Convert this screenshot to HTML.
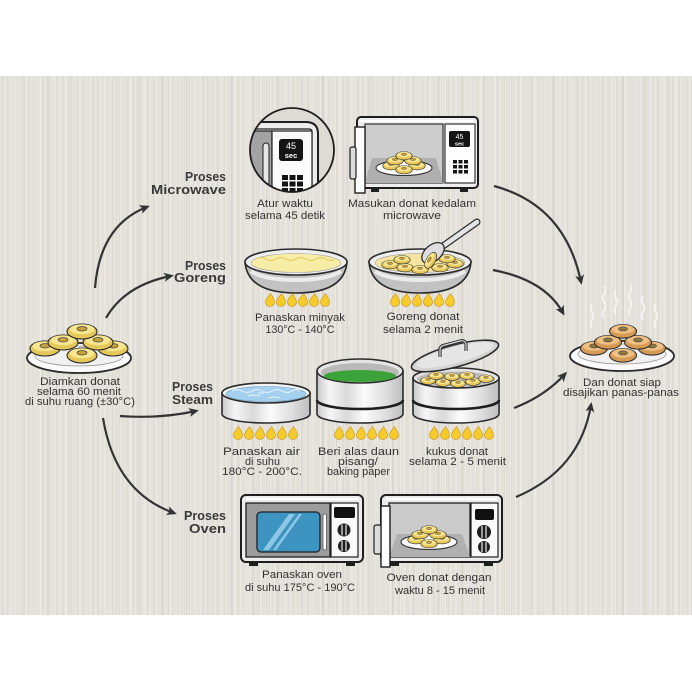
<!DOCTYPE html>
<html><head><meta charset="utf-8"><style>
html,body{margin:0;padding:0;background:#fff;}
#wrap{position:relative;width:692px;height:692px;overflow:hidden;background:#fff;}
#bg{position:absolute;left:0;top:76px;width:692px;height:539px;background-color:#e4e1da;
background-image:repeating-linear-gradient(90deg,rgba(255,255,255,0.28) 0 1px,transparent 1px 5px),repeating-linear-gradient(90deg,rgba(140,130,115,0.08) 0 1px,transparent 1px 7px),repeating-linear-gradient(90deg,rgba(255,255,255,0.18) 0 2px,transparent 2px 13px),repeating-linear-gradient(90deg,rgba(120,110,100,0.05) 0 3px,transparent 3px 23px);}
svg{position:absolute;left:0;top:0;}
text{font-family:"Liberation Sans",Arial,sans-serif;}
.cap{font-size:11px;fill:#333;text-anchor:middle;}
.pr{font-size:13px;font-weight:bold;fill:#3a3a3a;text-anchor:end;}
</style></head><body><div id="wrap"><div id="bg"></div>
<svg width="692" height="692" viewBox="0 0 692 692">
<defs>
<marker id="ah" viewBox="0 0 10 10" refX="7" refY="5" markerWidth="10" markerHeight="10" markerUnits="userSpaceOnUse" orient="auto"><path d="M0,0.5 L10,5 L0,9.5 L2.5,5 Z" fill="#333"/></marker>
<g id="dy">
 <ellipse cx="0" cy="1.5" rx="15" ry="7.5" fill="#e6c75a" stroke="#2b2b2b" stroke-width="1.1"/>
 <ellipse cx="0" cy="-0.8" rx="12.5" ry="5" fill="#f7e58f"/>
 <ellipse cx="0" cy="-1.2" rx="5" ry="2.2" fill="#c9a13a" stroke="#444" stroke-width="0.7"/>
</g>
<g id="dt">
 <ellipse cx="0" cy="1.5" rx="15" ry="7.5" fill="#d69a55" stroke="#2b2b2b" stroke-width="1.1"/>
 <ellipse cx="0" cy="-0.8" rx="12.5" ry="5" fill="#efc084"/>
 <ellipse cx="0" cy="-1.2" rx="5" ry="2.2" fill="#8f7a3a" stroke="#444" stroke-width="0.7"/>
</g>
<path id="fl" d="M0.5,-6.5 C2.5,-3.5 4.5,-0.5 4.5,2 A4.5,4.5 0 0 1 -4.5,2 C-4.5,-1 -2,-2.5 0.5,-6.5 Z" fill="#f6cc2c" stroke="#c98e12" stroke-width="0.6"/>
<g id="f6"><use href="#fl" x="0"/><use href="#fl" x="11"/><use href="#fl" x="22"/><use href="#fl" x="33"/><use href="#fl" x="44"/><use href="#fl" x="55"/></g>
<clipPath id="cc"><circle cx="292" cy="150" r="42"/></clipPath>
<linearGradient id="metal" x1="0" y1="0" x2="1" y2="0">
 <stop offset="0" stop-color="#c9c9c9"/><stop offset="0.15" stop-color="#f6f6f6"/><stop offset="0.35" stop-color="#d9d9d9"/><stop offset="0.55" stop-color="#fbfbfb"/><stop offset="0.8" stop-color="#dedede"/><stop offset="1" stop-color="#bdbdbd"/>
</linearGradient>
</defs>

<!-- ARROWS -->
<g fill="none" stroke="#333" stroke-width="2.2" marker-end="url(#ah)">
<path d="M95,288 Q100,225 147,207"/>
<path d="M106,318 Q125,285 171,276"/>
<path d="M120,416 Q160,419 196,411"/>
<path d="M103,418 Q115,492 174,513"/>
<path d="M494,186 Q565,205 581,282"/>
<path d="M493,270 Q545,280 563,313"/>
<path d="M514,408 Q545,396 565,374"/>
<path d="M516,497 Q580,470 591,405"/>
</g>

<!-- LEFT PLATE -->
<ellipse cx="79" cy="358" rx="52" ry="15" fill="#fafafa" stroke="#2b2b2b" stroke-width="1.8"/>
<ellipse cx="79" cy="356" rx="44" ry="10" fill="#f1f1f1" stroke="#9a9a9a" stroke-width="0.8"/>
<use href="#dy" transform="translate(45,347)"/>
<use href="#dy" transform="translate(113,347)"/>
<use href="#dy" transform="translate(63,341)"/>
<use href="#dy" transform="translate(98,341)"/>
<use href="#dy" transform="translate(82,354)"/>
<use href="#dy" transform="translate(82,330)"/>
<text class="cap" x="80" y="385" textLength="80" lengthAdjust="spacingAndGlyphs">Diamkan donat</text>
<text class="cap" x="79" y="395" textLength="84" lengthAdjust="spacingAndGlyphs">selama 60 menit</text>
<text class="cap" x="80" y="405" textLength="110" lengthAdjust="spacingAndGlyphs">di suhu ruang (±30°C)</text>

<!-- PROSES LABELS -->
<text class="pr" x="226" y="181" textLength="41" lengthAdjust="spacingAndGlyphs">Proses</text>
<text class="pr" x="226" y="194" textLength="75" lengthAdjust="spacingAndGlyphs">Microwave</text>
<text class="pr" x="226" y="270" textLength="41" lengthAdjust="spacingAndGlyphs">Proses</text>
<text class="pr" x="226" y="282" textLength="52" lengthAdjust="spacingAndGlyphs">Goreng</text>
<text class="pr" x="213" y="391" textLength="41" lengthAdjust="spacingAndGlyphs">Proses</text>
<text class="pr" x="213" y="404" textLength="41" lengthAdjust="spacingAndGlyphs">Steam</text>
<text class="pr" x="226" y="520" textLength="42" lengthAdjust="spacingAndGlyphs">Proses</text>
<text class="pr" x="226" y="533" textLength="37" lengthAdjust="spacingAndGlyphs">Oven</text>

<!-- MICROWAVE CLOSEUP -->
<circle cx="292" cy="150" r="42" fill="#dedbd5"/>
<g clip-path="url(#cc)">
 <path d="M240,122 L306,122 Q318,122 318,134 L318,200 L240,200 Z" fill="#ececec" stroke="#1e1e1e" stroke-width="2"/>
 <path d="M240,129 L309,129 Q312,129 312,132 L312,200" fill="none" stroke="#1e1e1e" stroke-width="1.2"/>
 <rect x="240" y="131" width="32" height="70" fill="#a3a3a3" stroke="#1e1e1e" stroke-width="1.2"/>
 <rect x="263" y="143" width="6" height="60" rx="3" fill="#e6e6e6" stroke="#1e1e1e" stroke-width="1"/>
 <rect x="272" y="131" width="40" height="70" fill="#fbfbfb" stroke="#1e1e1e" stroke-width="1.2"/>
 <rect x="279" y="139" width="24" height="22" rx="3" fill="#141414"/>
 <text x="291" y="149" font-size="9" fill="#fff" text-anchor="middle">45</text>
 <text x="291" y="158" font-size="7.5" font-weight="bold" fill="#fff" text-anchor="middle">sec</text>
 <g fill="#141414">
  <rect x="282" y="175" width="6" height="5"/><rect x="289.5" y="175" width="6" height="5"/><rect x="297" y="175" width="6" height="5"/>
  <rect x="282" y="181.5" width="6" height="5"/><rect x="289.5" y="181.5" width="6" height="5"/><rect x="297" y="181.5" width="6" height="5"/>
  <rect x="282" y="188" width="6" height="5"/><rect x="289.5" y="188" width="6" height="5"/><rect x="297" y="188" width="6" height="5"/>
 </g>
</g>
<circle cx="292" cy="150" r="42" fill="none" stroke="#1e1e1e" stroke-width="1.8"/>
<text class="cap" x="285" y="207" textLength="56" lengthAdjust="spacingAndGlyphs">Atur waktu</text>
<text class="cap" x="285" y="219" textLength="80" lengthAdjust="spacingAndGlyphs">selama 45 detik</text>

<!-- MICROWAVE WITH DONUTS -->
<rect x="357" y="117" width="121" height="71" rx="4" fill="#eeeeee" stroke="#1e1e1e" stroke-width="2"/>
<path d="M361,121 L474,121" stroke="#fff" stroke-width="2"/>
<rect x="365" y="124" width="78" height="59" fill="#cdcdcd" stroke="#333" stroke-width="1.2"/>
<path d="M372,158 L436,158 L443,183 L365,183 Z" fill="#afafaf"/>
<rect x="445" y="124" width="30" height="59" fill="#fdfdfd" stroke="#333" stroke-width="1.2"/>
<rect x="449" y="131" width="21" height="16" rx="2" fill="#141414"/>
<text x="459.5" y="139" font-size="7" fill="#fff" text-anchor="middle">45</text>
<text x="459.5" y="145.5" font-size="5.5" font-weight="bold" fill="#fff" text-anchor="middle">sec</text>
<g fill="#141414">
 <rect x="453" y="160" width="4" height="3.5"/><rect x="458.5" y="160" width="4" height="3.5"/><rect x="464" y="160" width="4" height="3.5"/>
 <rect x="453" y="165" width="4" height="3.5"/><rect x="458.5" y="165" width="4" height="3.5"/><rect x="464" y="165" width="4" height="3.5"/>
 <rect x="453" y="170" width="4" height="3.5"/><rect x="458.5" y="170" width="4" height="3.5"/><rect x="464" y="170" width="4" height="3.5"/>
</g>
<rect x="371" y="188" width="8" height="4" fill="#1e1e1e"/><rect x="460" y="188" width="8" height="4" fill="#1e1e1e"/>
<ellipse cx="404" cy="168" rx="28" ry="7.5" fill="#fafafa" stroke="#333" stroke-width="1.1"/>
<use href="#dy" transform="translate(391,165) scale(0.55)"/>
<use href="#dy" transform="translate(417,165) scale(0.55)"/>
<use href="#dy" transform="translate(395,160) scale(0.55)"/>
<use href="#dy" transform="translate(413,160) scale(0.55)"/>
<use href="#dy" transform="translate(404,169) scale(0.55)"/>
<use href="#dy" transform="translate(404,155) scale(0.55)"/>
<rect x="355" y="127" width="10" height="66" fill="#fdfdfd" stroke="#1e1e1e" stroke-width="1.4"/>
<rect x="350" y="147" width="6" height="32" rx="2" fill="#dcdcdc" stroke="#1e1e1e" stroke-width="1.2"/>
<text class="cap" x="412" y="207" textLength="128" lengthAdjust="spacingAndGlyphs">Masukan donat kedalam</text>
<text class="cap" x="412" y="219" textLength="58" lengthAdjust="spacingAndGlyphs">microwave</text>

<!-- GORENG PAN 1 -->
<path d="M245,262 C247,285 268,293 296,293 C324,293 345,285 347,262 Z" fill="#c2c2c2" stroke="#2b2b2b" stroke-width="1.6"/>
<path d="M251,271 C266,283 326,283 341,271" fill="none" stroke="#ececec" stroke-width="4"/>
<ellipse cx="296" cy="262" rx="51" ry="13" fill="#efefef" stroke="#2b2b2b" stroke-width="1.6"/>
<ellipse cx="296" cy="263" rx="45" ry="9.5" fill="#f8eda6" stroke="#999" stroke-width="0.6"/>
<path d="M256,259 q5,-3 10,0 t10,0 t10,0 t10,0 t10,0 t10,0 t10,0 t8,0" fill="none" stroke="#e3c95c" stroke-width="1"/>
<use href="#f6" transform="translate(270,300)"/>
<text class="cap" x="300" y="321" textLength="90" lengthAdjust="spacingAndGlyphs">Panaskan minyak</text>
<text class="cap" x="300" y="333" textLength="69" lengthAdjust="spacingAndGlyphs">130°C - 140°C</text>

<!-- GORENG PAN 2 -->
<path d="M369,262 C371,285 392,293 420,293 C448,293 469,285 471,262 Z" fill="#c2c2c2" stroke="#2b2b2b" stroke-width="1.6"/>
<path d="M375,271 C390,283 450,283 465,271" fill="none" stroke="#ececec" stroke-width="4"/>
<ellipse cx="420" cy="262" rx="51" ry="13" fill="#efefef" stroke="#2b2b2b" stroke-width="1.6"/>
<ellipse cx="420" cy="263" rx="45" ry="9.5" fill="#f4e6a0" stroke="#999" stroke-width="0.6"/>
<use href="#dy" transform="translate(390,264) scale(0.55)"/>
<use href="#dy" transform="translate(405,267) scale(0.55)"/>
<use href="#dy" transform="translate(440,267) scale(0.55)"/>
<use href="#dy" transform="translate(455,263) scale(0.55)"/>
<use href="#dy" transform="translate(402,259) scale(0.55)"/>
<use href="#dy" transform="translate(447,258) scale(0.55)"/>
<use href="#dy" transform="translate(420,269) scale(0.55)"/>
<path d="M443,246 L477,222" stroke="#2b2b2b" stroke-width="7" stroke-linecap="round"/>
<path d="M443,246 L477,222" stroke="#e4e4e4" stroke-width="4.6" stroke-linecap="round"/>
<ellipse cx="433" cy="253" rx="13" ry="8" transform="rotate(-40 433 253)" fill="#dedede" stroke="#2b2b2b" stroke-width="1.3"/>
<use href="#dy" transform="translate(430,260) rotate(-60) scale(0.6)"/>
<use href="#f6" transform="translate(395,300)"/>
<text class="cap" x="423" y="320" textLength="73" lengthAdjust="spacingAndGlyphs">Goreng donat</text>
<text class="cap" x="423" y="333" textLength="80" lengthAdjust="spacingAndGlyphs">selama 2 menit</text>

<!-- STEAM POT 1 -->
<path d="M222,393 L222,414 A44,9 0 0 0 310,414 L310,393 Z" fill="url(#metal)" stroke="#2b2b2b" stroke-width="1.6"/>
<ellipse cx="266" cy="393" rx="44" ry="10" fill="#f2f2f2" stroke="#2b2b2b" stroke-width="1.6"/>
<ellipse cx="266" cy="394" rx="40" ry="7.5" fill="#a3d0ee" stroke="#6a9cc0" stroke-width="0.6"/>
<path d="M232,391 q5,-3 10,0 t10,0 t10,0 t10,0 t10,0 t10,0 t8,0" fill="none" stroke="#e8f5fd" stroke-width="1"/>
<path d="M248,396 q6,-2 12,0 M268,398 q6,-2 12,0 M258,393 l6,0" fill="none" stroke="#eaf6fe" stroke-width="0.9"/>
<use href="#f6" transform="translate(238,433)"/>
<text class="cap" x="261.5" y="455" textLength="77" lengthAdjust="spacingAndGlyphs">Panaskan air</text>
<text class="cap" x="262.5" y="465" textLength="35" lengthAdjust="spacingAndGlyphs">di suhu</text>
<text class="cap" x="262" y="475" textLength="80" lengthAdjust="spacingAndGlyphs">180°C - 200°C.</text>

<!-- STEAM POT 2 -->
<path d="M317,371 L317,414 A43,9 0 0 0 403,414 L403,371 Z" fill="url(#metal)" stroke="#2b2b2b" stroke-width="1.6"/>
<path d="M317,400 A43,9 0 0 0 403,400" fill="none" stroke="#1e1e1e" stroke-width="2.6"/>
<ellipse cx="360" cy="371" rx="43" ry="12" fill="#e4e4e4" stroke="#2b2b2b" stroke-width="1.6"/>
<ellipse cx="360" cy="372.5" rx="39" ry="9.5" fill="#b9b9b9"/>
<ellipse cx="360" cy="376" rx="36" ry="6" fill="#3ba33a"/>
<use href="#f6" transform="translate(339,433)"/>
<text class="cap" x="358.5" y="455" textLength="81" lengthAdjust="spacingAndGlyphs">Beri alas daun</text>
<text class="cap" x="358" y="465" textLength="40" lengthAdjust="spacingAndGlyphs">pisang/</text>
<text class="cap" x="358.5" y="475" textLength="63" lengthAdjust="spacingAndGlyphs">baking paper</text>

<!-- STEAM POT 3 -->
<path d="M413,378 L413,414 A43,9 0 0 0 499,414 L499,378 Z" fill="url(#metal)" stroke="#2b2b2b" stroke-width="1.6"/>
<path d="M413,400 A43,9 0 0 0 499,400" fill="none" stroke="#1e1e1e" stroke-width="2.6"/>
<ellipse cx="456" cy="378" rx="43" ry="10" fill="#e4e4e4" stroke="#2b2b2b" stroke-width="1.6"/>
<ellipse cx="456" cy="379" rx="39" ry="7.5" fill="#bdbdbd"/>
<use href="#dy" transform="translate(428,380) scale(0.5)"/>
<use href="#dy" transform="translate(443,382) scale(0.5)"/>
<use href="#dy" transform="translate(458,383) scale(0.5)"/>
<use href="#dy" transform="translate(473,381) scale(0.5)"/>
<use href="#dy" transform="translate(486,378) scale(0.5)"/>
<use href="#dy" transform="translate(436,375) scale(0.5)"/>
<use href="#dy" transform="translate(452,376) scale(0.5)"/>
<use href="#dy" transform="translate(467,375) scale(0.5)"/>
<ellipse cx="455" cy="356" rx="45" ry="11" transform="rotate(-15 455 356)" fill="#d4d4d4" stroke="#2b2b2b" stroke-width="1.6"/>
<ellipse cx="455" cy="355" rx="40" ry="8" transform="rotate(-15 455 355)" fill="#e6e6e6"/>
<path d="M440,357 L440,350 Q440,346 445,345 L460,341 Q465,340 466,344 L466,351" fill="none" stroke="#2b2b2b" stroke-width="3.2" stroke-linejoin="round"/>
<path d="M440,357 L440,350 Q440,346 445,345 L460,341 Q465,340 466,344 L466,351" fill="none" stroke="#dcdcdc" stroke-width="1.2" stroke-linejoin="round"/>
<use href="#f6" transform="translate(434,433)"/>
<text class="cap" x="457" y="455" textLength="62" lengthAdjust="spacingAndGlyphs">kukus donat</text>
<text class="cap" x="457.5" y="465" textLength="97" lengthAdjust="spacingAndGlyphs">selama 2 - 5 menit</text>

<!-- OVEN 1 -->
<rect x="241" y="495" width="122" height="67" rx="5" fill="#ececec" stroke="#1e1e1e" stroke-width="2"/>
<path d="M246,499 L358,499" stroke="#fff" stroke-width="2"/>
<rect x="246" y="503" width="84" height="54" fill="#9c9c9c" stroke="#1e1e1e" stroke-width="1.3"/>
<rect x="257" y="512" width="63" height="40" rx="4" fill="#3d94c0" stroke="#1e1e1e" stroke-width="1.3"/>
<path d="M263,550 L289,514 L295,514 L269,550 Z" fill="#8fc8e6"/>
<path d="M273,550 L299,514 L302,514 L276,550 Z" fill="#8fc8e6"/>
<rect x="323" y="514" width="3.5" height="36" rx="1.5" fill="#fff" stroke="#444" stroke-width="0.7"/>
<rect x="331" y="503" width="27" height="54" fill="#fafafa" stroke="#1e1e1e" stroke-width="1.2"/>
<rect x="334" y="507" width="21" height="11" rx="2" fill="#111"/>
<circle cx="344" cy="530" r="6.5" fill="#1e1e1e"/>
<path d="M342,524.5 L342,535.5 M346,524.5 L346,535.5" stroke="#fff" stroke-width="1.1"/>
<circle cx="344" cy="546" r="6" fill="#1e1e1e"/>
<path d="M342,541 L342,551 M346,541 L346,551" stroke="#fff" stroke-width="1.1"/>
<rect x="249" y="562" width="9" height="4" fill="#1e1e1e"/><rect x="346" y="562" width="9" height="4" fill="#1e1e1e"/>
<text class="cap" x="302" y="578" textLength="80" lengthAdjust="spacingAndGlyphs">Panaskan oven</text>
<text class="cap" x="300" y="591" textLength="110" lengthAdjust="spacingAndGlyphs">di suhu 175°C - 190°C</text>

<!-- OVEN 2 -->
<rect x="381" y="495" width="121" height="67" rx="5" fill="#ececec" stroke="#1e1e1e" stroke-width="2"/>
<path d="M386,499 L497,499" stroke="#fff" stroke-width="2"/>
<rect x="389" y="503" width="81" height="54" fill="#cbcbcb" stroke="#1e1e1e" stroke-width="1.3"/>
<path d="M397,534 L462,534 L470,557 L389,557 Z" fill="#b0b0b0"/>
<rect x="471" y="503" width="27" height="54" fill="#fafafa" stroke="#1e1e1e" stroke-width="1.2"/>
<rect x="475" y="509" width="19" height="11" rx="2" fill="#111"/>
<circle cx="484" cy="532" r="7" fill="#1e1e1e"/>
<path d="M482,526 L482,538 M486,526 L486,538" stroke="#fff" stroke-width="1.1"/>
<circle cx="484" cy="547" r="6" fill="#1e1e1e"/>
<path d="M482,542 L482,552 M486,542 L486,552" stroke="#fff" stroke-width="1.1"/>
<rect x="390" y="562" width="9" height="4" fill="#1e1e1e"/><rect x="484" y="562" width="9" height="4" fill="#1e1e1e"/>
<ellipse cx="429" cy="542" rx="28" ry="7.5" fill="#fafafa" stroke="#333" stroke-width="1.1"/>
<use href="#dy" transform="translate(416,539) scale(0.55)"/>
<use href="#dy" transform="translate(442,539) scale(0.55)"/>
<use href="#dy" transform="translate(420,534) scale(0.55)"/>
<use href="#dy" transform="translate(438,534) scale(0.55)"/>
<use href="#dy" transform="translate(429,543) scale(0.55)"/>
<use href="#dy" transform="translate(429,529) scale(0.55)"/>
<rect x="381" y="506" width="9" height="61" fill="#fdfdfd" stroke="#1e1e1e" stroke-width="1.4"/>
<rect x="374" y="525" width="7" height="29" rx="2" fill="#dcdcdc" stroke="#1e1e1e" stroke-width="1.2"/>
<text class="cap" x="439" y="581" textLength="105" lengthAdjust="spacingAndGlyphs">Oven donat dengan</text>
<text class="cap" x="440" y="594" textLength="90" lengthAdjust="spacingAndGlyphs">waktu 8 - 15 menit</text>

<!-- FINAL PLATE -->
<g fill="none" stroke="#fbfbfb" stroke-width="1.5" opacity="0.9">
<path d="M592,328 q-3,-4 0,-8 q3,-4 0,-8 q-3,-4 0,-8"/>
<path d="M604,318 q-3,-4 0,-8 q3,-4 0,-8 q-3,-4 0,-8 q3,-4 0,-8"/>
<path d="M616,314 q-3,-4 0,-8 q3,-4 0,-8 q-3,-4 0,-8"/>
<path d="M630,316 q-3,-4 0,-8 q3,-4 0,-8 q-3,-4 0,-8 q3,-4 0,-8"/>
<path d="M643,320 q-3,-4 0,-8 q3,-4 0,-8 q-3,-4 0,-8"/>
<path d="M656,328 q-3,-4 0,-8 q3,-4 0,-8 q-3,-4 0,-8"/>
</g>
<ellipse cx="622" cy="356" rx="52" ry="15" fill="#fafafa" stroke="#2b2b2b" stroke-width="1.8"/>
<ellipse cx="622" cy="354" rx="44" ry="10" fill="#f1f1f1" stroke="#9a9a9a" stroke-width="0.8"/>
<use href="#dt" transform="translate(594,347) scale(0.9)"/>
<use href="#dt" transform="translate(652,347) scale(0.9)"/>
<use href="#dt" transform="translate(608,341) scale(0.9)"/>
<use href="#dt" transform="translate(638,341) scale(0.9)"/>
<use href="#dt" transform="translate(623,354) scale(0.9)"/>
<use href="#dt" transform="translate(623,330) scale(0.9)"/>
<text class="cap" x="622" y="386" textLength="78" lengthAdjust="spacingAndGlyphs">Dan donat siap</text>
<text class="cap" x="621" y="396" textLength="116" lengthAdjust="spacingAndGlyphs">disajikan panas-panas</text>
</svg></div></body></html>
